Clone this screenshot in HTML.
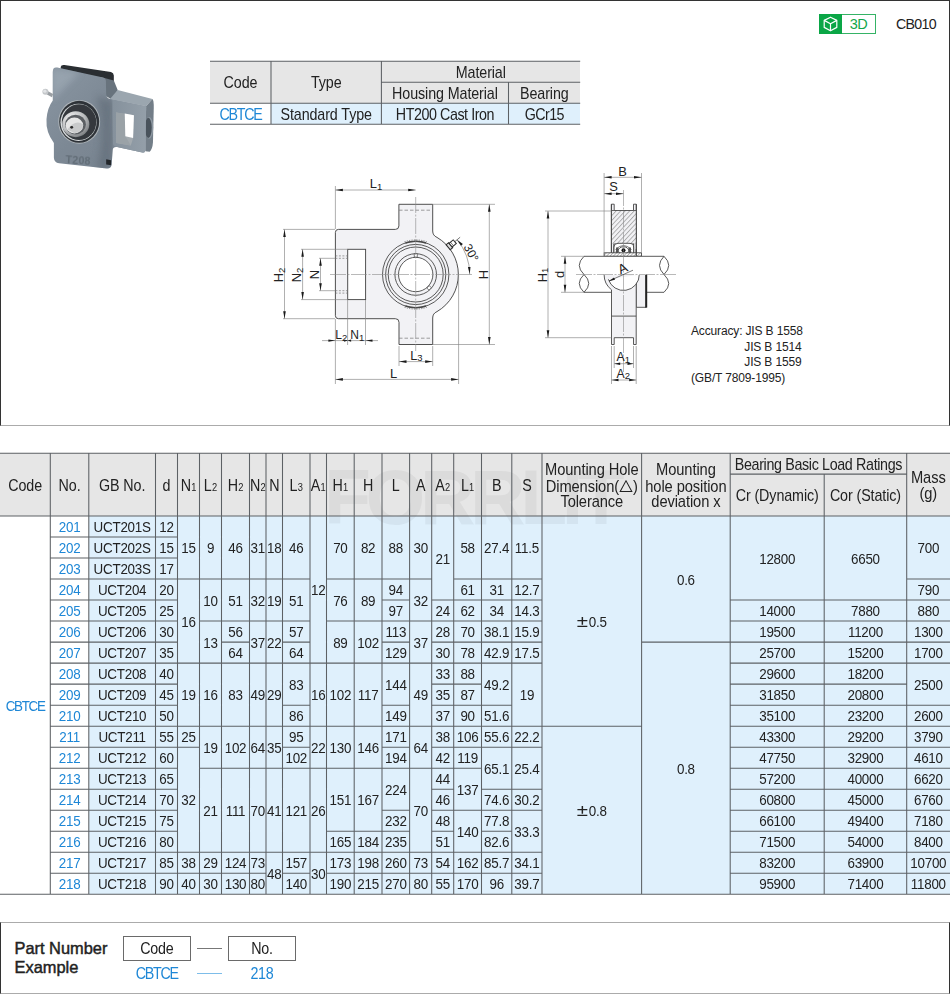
<!DOCTYPE html>
<html><head><meta charset="utf-8"><title>CBTCE</title>
<style>
html,body{margin:0;padding:0;background:#fff}
#page{position:relative;width:950px;height:995px;overflow:hidden;background:#fff;font-family:"Liberation Sans",sans-serif;color:#222}
#page div,#page svg{position:absolute}
.frame1{left:0;top:0;width:948px;height:424px;border:1px solid #333;border-bottom:1.5px solid #ababab}
.frame2{left:0;top:922px;width:948px;height:70px;border:1px solid #333;border-top:1.5px solid #ababab;border-bottom:1.5px solid #ababab}
.bg.hd{background:#e6e6e6}
.bg.bl{background:#dff0fc}
.c{display:flex;align-items:center;justify-content:center;font-size:13.4px;letter-spacing:-0.25px;white-space:nowrap;line-height:1}
.c>span{display:block;text-align:center;transform:scaleY(1.1);position:relative;top:1.2px}
.c.h{font-size:14.3px;letter-spacing:-0.1px}
.c.h.ml>span{line-height:14.65px;top:1.1px;font-size:14.7px}
.c.b{color:#1e87d6}
.c.cb>span{letter-spacing:-1.3px}
.c.p>span{top:0.5px}
.pm{display:inline-block;font-style:normal;font-size:15.5px;line-height:10px;transform:scaleX(1.32);margin:0 2.4px 0 1.2px;vertical-align:-0.3px}
.c sub{font-size:9.3px;vertical-align:baseline;position:relative;top:0.3px;letter-spacing:0;margin-left:0.3px}
#page svg.tri{position:relative;display:inline-block;vertical-align:-1px}
.grid{left:0;top:0;pointer-events:none}
.grid path{stroke:#5d6165;stroke-width:1.05;fill:none}
.wm{left:324px;top:458px;width:310px;height:78px;font-weight:bold;font-size:77px;line-height:78px;letter-spacing:-5.5px;color:#000;opacity:.045;white-space:nowrap}
.t1 .c{font-size:14.3px;letter-spacing:-0.1px}
.lbl{font-size:12px;line-height:15.6px;white-space:pre;color:#222}
</style></head><body><div id="page">

<div class="frame1"></div>
<!-- 3D badge -->
<div style="left:819px;top:14px;width:56.5px;height:19.6px;border:1px solid #35b366;box-sizing:border-box;background:#fff"></div>
<div style="left:819px;top:14px;width:23px;height:19.6px;background:#0aa646"></div>
<svg style="left:819px;top:14px" width="23" height="20" viewBox="0 0 23 20"><g fill="none" stroke="#fff" stroke-width="1.2" stroke-linejoin="round"><path d="M11.5 3.2L17.8 6.4V13.4L11.5 16.8L5.2 13.4V6.4Z"/><path d="M5.2 6.4L11.5 9.8L17.8 6.4M11.5 9.8V16.8"/></g></svg>
<div style="left:842px;top:14px;width:33px;height:19.6px;color:#12a74b;font-size:14.5px;line-height:20px;text-align:center;letter-spacing:-0.6px">3D</div>
<div style="left:893px;top:14px;width:46px;height:20px;font-size:14.2px;line-height:20px;text-align:center;letter-spacing:-0.7px">CB010</div>
<!-- spec table -->
<div class="t1" style="left:0;top:0;width:950px;height:140px">
<div class="bg hd" style="left:210px;top:61.3px;width:370.2px;height:41.9px"></div>
<div class="bg bl" style="left:271px;top:103.2px;width:309.2px;height:21px"></div>
<div class="c" style="left:210px;top:61.3px;width:61px;height:41.9px"><span>Code</span></div>
<div class="c" style="left:271px;top:61.3px;width:110.4px;height:41.9px"><span>Type</span></div>
<div class="c" style="left:381.4px;top:61.3px;width:198.8px;height:20.9px"><span>Material</span></div>
<div class="c" style="left:381.4px;top:82.2px;width:127.1px;height:21px"><span>Housing Material</span></div>
<div class="c" style="left:508.5px;top:82.2px;width:71.7px;height:21px"><span>Bearing</span></div>
<div class="c b cb" style="left:210px;top:103.2px;width:61px;height:21px"><span>CBTCE</span></div>
<div class="c" style="left:271px;top:103.2px;width:110.4px;height:21px"><span>Standard Type</span></div>
<div class="c" style="left:381.4px;top:103.2px;width:127.1px;height:21px"><span style="letter-spacing:-0.45px">HT200 Cast Iron</span></div>
<div class="c" style="left:508.5px;top:103.2px;width:71.7px;height:21px"><span style="letter-spacing:-0.6px">GCr15</span></div>
<svg class="grid" width="950" height="140" viewBox="0 0 950 140"><path d="M210 61.3H580.2M210 103.2H580.2M210 124.2H580.2M381.4 82.2H580.2M271 61.3V124.2M381.4 61.3V124.2M508.5 82.2V124.2"/></svg>
</div>
<div class="lbl" style="left:691px;top:324.3px;width:110.5px;text-align:right;letter-spacing:-0.15px">Accuracy: JIS B 1558
JIS B 1514
JIS B 1559</div>
<div class="lbl" style="left:691px;top:371.1px;letter-spacing:-0.15px">(GB/T 7809-1995)</div>

<svg style="left:35px;top:55px" width="130" height="125" viewBox="0 0 950 913">
<defs>
<linearGradient id="gf" x1="0" y1="0" x2="1" y2="1"><stop offset="0" stop-color="#8a96a2"/><stop offset="0.5" stop-color="#7c8894"/><stop offset="1" stop-color="#76828e"/></linearGradient>
<linearGradient id="ga" x1="0" y1="0" x2="1" y2="0"><stop offset="0" stop-color="#84909b"/><stop offset="1" stop-color="#949fa9"/></linearGradient>
<radialGradient id="gs" cx="0.35" cy="0.3" r="0.8"><stop offset="0" stop-color="#f4f4f4"/><stop offset="0.6" stop-color="#b9bbbd"/><stop offset="1" stop-color="#6f7275"/></radialGradient>
<filter id="bl2" x="-30%" y="-30%" width="160%" height="160%"><feGaussianBlur stdDeviation="28"/></filter>
<clipPath id="cf"><path d="M130 124Q130 86 162 92L498 164Q518 170 518 192L520 285Q522 316 550 322L568 330V692L560 800Q555 832 524 829L176 790Q140 785 138 750V642Q78 565 84 470Q90 385 130 332Z"/></clipPath>
<filter id="bl" x="-5%" y="-5%" width="110%" height="110%"><feGaussianBlur stdDeviation="3.2"/></filter>
</defs>
<g filter="url(#bl)">
<!-- black top pad -->
<path d="M188 88Q190 70 215 73L555 124Q575 130 576 150V190L520 205L500 168L188 118Z" fill="#2a2e32"/>
<!-- shadow side behind boss -->
<path d="M500 166L576 186L605 258L560 325L518 300Z" fill="#68737d"/>
<!-- arm top face -->
<path d="M548 322L604 256L858 322L812 374Z" fill="#9ba6af"/>
<!-- arm right side -->
<path d="M812 374L858 322Q868 330 868 380L862 640Q858 690 838 706L806 704Z" fill="#737e88"/>
<ellipse cx="834" cy="532" rx="30" ry="80" fill="#8d98a2"/>
<ellipse cx="828" cy="532" rx="25" ry="74" fill="#4a535b"/>
<!-- front face -->
<path d="M130 124Q130 86 162 92L498 164Q518 170 518 192L520 285Q522 316 550 322L812 374L808 690Q806 716 784 712L600 672Q572 668 568 692L560 800Q555 832 524 829L176 790Q140 785 138 750V642Q78 565 84 470Q90 385 130 332Z" fill="url(#gf)"/>
<path d="M548 322L812 374L808 690Q806 716 784 712L600 672Q574 668 570 650L560 330Z" fill="url(#ga)"/>
<g clip-path="url(#cf)"><path d="M450 300Q520 330 570 330L568 690L560 840L450 830Q520 600 450 300Z" fill="#65707b" opacity="0.75" filter="url(#bl2)"/>
<path d="M120 100L330 120L120 330Z" fill="#9ba7b2" opacity="0.8" filter="url(#bl2)"/></g>
<!-- slot -->
<path d="M592 420L722 440L716 612L700 662L594 642Z" fill="#a3aaaf"/>
<path d="M592 420L655 430L660 592L700 662L594 642Z" fill="#9aa2a7"/>
<path d="M656 428L723 440L717 606L660 594Z" fill="#ffffff"/>
<!-- bearing -->
<ellipse cx="323" cy="488" rx="153" ry="160" fill="#aeb4b9"/>
<ellipse cx="323" cy="488" rx="146" ry="153" fill="#2e3337"/>
<ellipse cx="318" cy="492" rx="132" ry="136" fill="#d9dcde"/>
<ellipse cx="322" cy="490" rx="126" ry="131" fill="#34393d"/>
<ellipse cx="298" cy="505" rx="99" ry="95" fill="url(#gs)"/>
<ellipse cx="296" cy="508" rx="76" ry="72" fill="#5b5f63"/>
<ellipse cx="288" cy="515" rx="64" ry="58" fill="#e6e6e6"/>
<path d="M236 545Q290 470 352 505Q345 560 290 572Z" fill="#c9cacb"/>
<ellipse cx="268" cy="528" rx="11" ry="10" fill="#2a2a2a"/>
<!-- nipple -->
<path d="M92 262L132 284L124 308L84 286Z" fill="#9a9fa3"/>
<circle cx="76" cy="268" r="22" fill="#c4c7ca"/>
<circle cx="72" cy="264" r="12" fill="#e2e4e6"/>
<!-- bottom notch -->
<path d="M520 762L556 768V806L520 800Z" fill="#23272b"/>
</g>
<text x="315" y="800" font-family="Liberation Sans, sans-serif" font-weight="bold" font-size="78" fill="#626d77" text-anchor="middle" letter-spacing="2" transform="rotate(4 315 770)" filter="url(#bl)">T208</text>
</svg>

<svg style="left:0;top:0" width="950" height="430" viewBox="0 0 950 430" font-family="Liberation Sans, sans-serif">
<path d="M338.4 229.4H395.4Q398.9 229.4 398.9 225.9V204.3H432.7V231Q432.7 235.6 437 237.4A42.9 42.9 0 0 1 437 311.6Q432.7 313.4 432.7 318V344.5H399V322.3Q399 318.7 395.4 318.7H338.4Q335.4 318.7 335.4 315.7V232.4Q335.4 229.4 338.4 229.4Z" fill="#f2f2f5" stroke="#474747" stroke-width="0.95" stroke-linejoin="round"/>
<rect x="347.7" y="249.3" width="17.9" height="50.3" fill="#fff" stroke="#474747" stroke-width="0.95"/>
<line x1="335.4" y1="255.9" x2="347.7" y2="255.9" stroke="#777" stroke-width="0.7" stroke-dasharray="2 1.5"/>
<line x1="335.4" y1="258.3" x2="347.7" y2="258.3" stroke="#777" stroke-width="0.7" stroke-dasharray="2 1.5"/>
<line x1="335.4" y1="290.7" x2="347.7" y2="290.7" stroke="#777" stroke-width="0.7" stroke-dasharray="2 1.5"/>
<line x1="335.4" y1="293.1" x2="347.7" y2="293.1" stroke="#777" stroke-width="0.7" stroke-dasharray="2 1.5"/>
<line x1="399" y1="210.2" x2="432.7" y2="210.2" stroke="#777" stroke-width="0.7" stroke-dasharray="3.5 2"/>
<line x1="399" y1="338.2" x2="432.7" y2="338.2" stroke="#777" stroke-width="0.7" stroke-dasharray="3.5 2"/>
<circle cx="415.7" cy="274.5" r="33.2" fill="none" stroke="#474747" stroke-width="0.9"/>
<circle cx="415.7" cy="274.5" r="30.1" fill="none" stroke="#474747" stroke-width="0.9"/>
<circle cx="415.7" cy="274.5" r="27.5" fill="none" stroke="#474747" stroke-width="0.9"/>
<circle cx="415.7" cy="274.5" r="20.8" fill="#f2f2f5" stroke="#474747" stroke-width="0.9"/>
<circle cx="415.7" cy="274.5" r="17.2" fill="#fff" stroke="#474747" stroke-width="0.9"/>
<path d="M404.44 241.79A34.6 34.6 0 0 1 426.96 241.79" fill="none" stroke="#555" stroke-width="0.7" stroke-dasharray="1.2 1.2"/>
<path d="M426.96 307.21A34.6 34.6 0 0 1 404.44 307.21" fill="none" stroke="#555" stroke-width="0.7" stroke-dasharray="1.2 1.2"/>
<path d="M425.96 306.08A33.2 33.2 0 0 1 405.44 306.08" fill="none" stroke="#474747" stroke-width="1.5" />
<path d="M405.44 242.92A33.2 33.2 0 0 1 425.96 242.92" fill="none" stroke="#474747" stroke-width="1.5" />
<rect x="414.2" y="253.7" width="3" height="3.4" fill="#fff" stroke="#474747" stroke-width="0.7"/>
<rect x="-1.5" y="-1.7" width="3" height="3.4" fill="#fff" stroke="#474747" stroke-width="0.7" transform="translate(429.1 287.9) rotate(45)"/>
<g transform="translate(415.7 274.5) rotate(-40)" fill="#fff" stroke="#2e2e2e" stroke-width="1.05"><rect x="42.4" y="-3.2" width="3.2" height="6.4" fill="#ddd"/><rect x="45.6" y="-2.4" width="5.4" height="4.8"/><line x1="47.4" y1="-2.4" x2="47.4" y2="2.4" stroke-width="0.6"/><line x1="51" y1="0" x2="58" y2="0" stroke-width="0.6"/></g>
<line x1="330" y1="274.5" x2="473" y2="274.5" stroke="#8a8a8a" stroke-width="0.6" stroke-dasharray="16 1.5 2 1.5"/>
<line x1="415.7" y1="197" x2="415.7" y2="351" stroke="#8a8a8a" stroke-width="0.6" stroke-dasharray="16 1.5 2 1.5"/>
<path d="M469.7 274.5A54 54 0 0 0 457.07 239.79" fill="none" stroke="#858585" stroke-width="0.7"/>
<polygon points="469.7,274 467.91,267.11 470.51,266.93" fill="#1a1a1a"/>
<polygon points="457.07,239.79 462.86,243.92 460.99,245.73" fill="#1a1a1a"/>
<text x="0" y="0" font-size="12" fill="#222" text-anchor="middle" transform="translate(467.6 254.8) rotate(62)">30°</text>
<line x1="335.4" y1="186" x2="335.4" y2="229" stroke="#858585" stroke-width="0.65" />
<line x1="335.4" y1="190" x2="415.7" y2="190" stroke="#858585" stroke-width="0.65" /><polygon points="335.4,190 342.9,188.7 342.9,191.3" fill="#1a1a1a"/><polygon points="415.7,190 408.2,191.3 408.2,188.7" fill="#1a1a1a"/>
<text x="376" y="188" font-size="12.9" fill="#222" text-anchor="middle">L<tspan font-size="9.5" dy="1.5">1</tspan></text>
<line x1="433" y1="204.3" x2="495" y2="204.3" stroke="#858585" stroke-width="0.65" />
<line x1="433" y1="344.5" x2="495" y2="344.5" stroke="#858585" stroke-width="0.65" />
<line x1="489.3" y1="204.3" x2="489.3" y2="344.5" stroke="#858585" stroke-width="0.65" /><polygon points="489.3,204.3 490.6,211.8 488,211.8" fill="#1a1a1a"/><polygon points="489.3,344.5 488,337 490.6,337" fill="#1a1a1a"/>
<text x="488" y="274.5" font-size="12.9" fill="#222" text-anchor="middle" transform="rotate(-90 488 274.5)">H</text>
<line x1="283" y1="229.4" x2="335" y2="229.4" stroke="#858585" stroke-width="0.65" />
<line x1="283" y1="318.7" x2="335" y2="318.7" stroke="#858585" stroke-width="0.65" />
<line x1="284.5" y1="229.4" x2="284.5" y2="318.7" stroke="#858585" stroke-width="0.65" /><polygon points="284.5,229.4 285.8,236.9 283.2,236.9" fill="#1a1a1a"/><polygon points="284.5,318.7 283.2,311.2 285.8,311.2" fill="#1a1a1a"/>
<text x="283" y="275" font-size="12.9" fill="#222" text-anchor="middle" transform="rotate(-90 283 275)">H<tspan font-size="9.5" dy="1.5">2</tspan></text>
<line x1="301" y1="249.3" x2="347.7" y2="249.3" stroke="#858585" stroke-width="0.65" />
<line x1="301" y1="299.6" x2="347.7" y2="299.6" stroke="#858585" stroke-width="0.65" />
<line x1="302.6" y1="249.3" x2="302.6" y2="299.6" stroke="#858585" stroke-width="0.65" /><polygon points="302.6,249.3 303.9,256.8 301.3,256.8" fill="#1a1a1a"/><polygon points="302.6,299.6 301.3,292.1 303.9,292.1" fill="#1a1a1a"/>
<text x="301" y="275" font-size="12.9" fill="#222" text-anchor="middle" transform="rotate(-90 301 275)">N<tspan font-size="9.5" dy="1.5">2</tspan></text>
<line x1="319" y1="258.3" x2="335" y2="258.3" stroke="#858585" stroke-width="0.65" />
<line x1="319" y1="290.7" x2="335" y2="290.7" stroke="#858585" stroke-width="0.65" />
<line x1="320.5" y1="258.3" x2="320.5" y2="290.7" stroke="#858585" stroke-width="0.65" /><polygon points="320.5,258.3 321.8,265.8 319.2,265.8" fill="#1a1a1a"/><polygon points="320.5,290.7 319.2,283.2 321.8,283.2" fill="#1a1a1a"/>
<text x="318.8" y="274.5" font-size="12.9" fill="#222" text-anchor="middle" transform="rotate(-90 318.8 274.5)">N</text>
<line x1="347.6" y1="300" x2="347.6" y2="345" stroke="#858585" stroke-width="0.65" />
<line x1="365.5" y1="300" x2="365.5" y2="345" stroke="#858585" stroke-width="0.65" />
<line x1="335.4" y1="319" x2="335.4" y2="384" stroke="#858585" stroke-width="0.65" />
<line x1="322" y1="340.6" x2="378" y2="340.6" stroke="#858585" stroke-width="0.65" />
<polygon points="335.4,340.6 328.4,341.8 328.4,339.4" fill="#1a1a1a"/>
<polygon points="365.5,340.6 372.5,339.4 372.5,341.8" fill="#1a1a1a"/>
<polygon points="347.6,340.6 351.1,339.5 351.1,341.7" fill="#1a1a1a"/>
<polygon points="347.6,340.6 344.1,341.7 344.1,339.5" fill="#1a1a1a"/>
<text x="341.3" y="339" font-size="12" fill="#222" text-anchor="middle">L<tspan font-size="9.5" dy="1.5">2</tspan></text>
<text x="357.3" y="339" font-size="12" fill="#222" text-anchor="middle">N<tspan font-size="9.5" dy="1.5">1</tspan></text>
<line x1="399" y1="346" x2="399" y2="366" stroke="#858585" stroke-width="0.65" />
<line x1="432.7" y1="346" x2="432.7" y2="366" stroke="#858585" stroke-width="0.65" />
<line x1="399" y1="361.6" x2="432.7" y2="361.6" stroke="#858585" stroke-width="0.65" /><polygon points="399,361.6 406.5,360.3 406.5,362.9" fill="#1a1a1a"/><polygon points="432.7,361.6 425.2,362.9 425.2,360.3" fill="#1a1a1a"/>
<text x="416.3" y="359.6" font-size="12.6" fill="#222" text-anchor="middle">L<tspan font-size="9.5" dy="1.5">3</tspan></text>
<line x1="458.6" y1="274.5" x2="458.6" y2="384" stroke="#858585" stroke-width="0.65" />
<line x1="335.4" y1="379.4" x2="458.6" y2="379.4" stroke="#858585" stroke-width="0.65" /><polygon points="335.4,379.4 342.9,378.1 342.9,380.7" fill="#1a1a1a"/><polygon points="458.6,379.4 451.1,380.7 451.1,378.1" fill="#1a1a1a"/>
<text x="393.7" y="378" font-size="12.9" fill="#222" text-anchor="middle">L</text>
<defs><pattern id="hat" width="3.3" height="3.3" patternUnits="userSpaceOnUse" patternTransform="rotate(-47)"><rect width="3.3" height="3.3" fill="#f2f2f5"/><line x1="0" y1="0.5" x2="3.3" y2="0.5" stroke="#777" stroke-width="0.55"/></pattern>
<pattern id="hat2" width="2.4" height="2.4" patternUnits="userSpaceOnUse" patternTransform="rotate(-45)"><rect width="2.4" height="2.4" fill="#fff"/><line x1="0" y1="0" x2="2.4" y2="0" stroke="#444" stroke-width="0.7"/></pattern></defs>
<path d="M611.4 204.2H614.2V210.5H633.5V204.2H636.3V256.3H633.5V243.5H614.2V256.3H611.4Z" fill="#f2f2f5" stroke="#474747" stroke-width="0.9"/>
<rect x="611.4" y="210.5" width="24.9" height="33" fill="url(#hat)" stroke="none"/>
<path d="M611.4 210.5H636.3M613.8 243.5V256M633.7 243.5V256" fill="none" stroke="#474747" stroke-width="0.8"/>
<line x1="611.4" y1="204.2" x2="611.4" y2="256.3" stroke="#474747" stroke-width="1" />
<line x1="636.3" y1="204.2" x2="636.3" y2="256.3" stroke="#474747" stroke-width="1" />
<path d="M614 256.3V247Q614 243.3 618 243.3H629Q633.6 243.3 633.6 247V256.3Z" fill="#fff" stroke="#474747" stroke-width="0.9"/>
<path d="M615.5 252Q623.5 243 631.5 252" fill="none" stroke="#474747" stroke-width="0.8"/>
<path d="M615.5 249.5Q623.5 241.5 631.5 249.5" fill="none" stroke="#474747" stroke-width="0.7"/>
<ellipse cx="623.5" cy="250.4" rx="5.2" ry="3.6" fill="#fff" stroke="#474747" stroke-width="0.9"/>
<circle cx="623.5" cy="250.2" r="2" fill="#111"/>
<rect x="616" y="247.5" width="2.4" height="5.5" fill="#555"/><rect x="628.6" y="247.5" width="2.4" height="5.5" fill="#555"/>
<rect x="604.1" y="252.8" width="37.4" height="3.5" fill="url(#hat2)" stroke="#474747" stroke-width="0.9"/>
<line x1="636.3" y1="249" x2="636.3" y2="259" stroke="#474747" stroke-width="1.2" />
<path d="M584 256.3H664Q655 265.4 664 274.5Q673.5 283.6 664 292.3H584Q574.5 283.4 584 274.5Q574.5 265.4 584 256.3Z" fill="#fff" stroke="#474747" stroke-width="0.9"/>
<path d="M664 256.3Q673.5 265.4 664 274.5" fill="none" stroke="#474747" stroke-width="0.9"/>
<path d="M584 274.5Q593.5 283.4 584 292.3" fill="none" stroke="#474747" stroke-width="0.9"/>
<path d="M636.2 274.5H646.2V307.3H636.2Z" fill="#f2f2f5" stroke="#474747" stroke-width="0.9"/>
<line x1="646.2" y1="274.5" x2="646.2" y2="307.6" stroke="#222" stroke-width="2" />
<path d="M604.1 274.5A19.4 19.4 0 0 0 611.5 289.8V344.5H614.2V337.7H633.5V344.5H636.2V274.5Z" fill="#f2f2f5" stroke="#474747" stroke-width="0.9"/>
<path d="M608.6 279.5A15.8 15.8 0 0 0 639.3 274.5Z" fill="#fff" stroke="none"/>
<path d="M608.4 279.3A15.8 15.8 0 0 0 639.3 274.5" fill="none" stroke="#474747" stroke-width="0.9"/>
<line x1="611.5" y1="316.1" x2="636.2" y2="316.1" stroke="#474747" stroke-width="0.9" />
<line x1="604.1" y1="274.5" x2="646.2" y2="274.5" stroke="#fff" stroke-width="1.2" />
<line x1="576" y1="274.5" x2="677" y2="274.5" stroke="#8a8a8a" stroke-width="0.6" stroke-dasharray="16 1.5 2 1.5"/>
<line x1="623.5" y1="190" x2="623.5" y2="372" stroke="#8a8a8a" stroke-width="0.6" stroke-dasharray="16 1.5 2 1.5"/>
<line x1="609" y1="281" x2="633" y2="270.2" stroke="#444" stroke-width="0.7" />
<polygon points="608.6,281.2 614.04,277.44 615.02,279.63" fill="#1a1a1a"/>
<text font-size="13.5" fill="#222" text-anchor="middle" transform="translate(624.6 272.6) rotate(-25)">A</text>
<line x1="604.1" y1="173" x2="604.1" y2="252.5" stroke="#858585" stroke-width="0.65" />
<line x1="641.5" y1="173" x2="641.5" y2="252.5" stroke="#858585" stroke-width="0.65" />
<line x1="604.1" y1="177.3" x2="641.5" y2="177.3" stroke="#858585" stroke-width="0.65" /><polygon points="604.1,177.3 611.6,176 611.6,178.6" fill="#1a1a1a"/><polygon points="641.5,177.3 634,178.6 634,176" fill="#1a1a1a"/>
<text x="622.5" y="176.3" font-size="12.9" fill="#222" text-anchor="middle">B</text>
<line x1="604.1" y1="193.7" x2="623.5" y2="193.7" stroke="#858585" stroke-width="0.65" /><polygon points="604.1,193.7 611.6,192.4 611.6,195" fill="#1a1a1a"/><polygon points="623.5,193.7 616,195 616,192.4" fill="#1a1a1a"/>
<text x="613.5" y="191" font-size="12.9" fill="#222" text-anchor="middle">S</text>
<line x1="545" y1="211" x2="611.4" y2="211" stroke="#858585" stroke-width="0.65" />
<line x1="545" y1="337.7" x2="611.4" y2="337.7" stroke="#858585" stroke-width="0.65" />
<line x1="548" y1="211" x2="548" y2="337.7" stroke="#858585" stroke-width="0.65" /><polygon points="548,211 549.3,218.5 546.7,218.5" fill="#1a1a1a"/><polygon points="548,337.7 546.7,330.2 549.3,330.2" fill="#1a1a1a"/>
<text x="546.5" y="275" font-size="12.9" fill="#222" text-anchor="middle" transform="rotate(-90 546.5 275)">H<tspan font-size="9.5" dy="1.5">1</tspan></text>
<line x1="561" y1="256.3" x2="584" y2="256.3" stroke="#858585" stroke-width="0.65" />
<line x1="561" y1="292.3" x2="584" y2="292.3" stroke="#858585" stroke-width="0.65" />
<line x1="565" y1="256.3" x2="565" y2="292.3" stroke="#858585" stroke-width="0.65" /><polygon points="565,256.3 566.3,263.8 563.7,263.8" fill="#1a1a1a"/><polygon points="565,292.3 563.7,284.8 566.3,284.8" fill="#1a1a1a"/>
<text x="563.5" y="274.5" font-size="12.9" fill="#222" text-anchor="middle" transform="rotate(-90 563.5 274.5)">d</text>
<line x1="614.2" y1="346" x2="614.2" y2="368" stroke="#858585" stroke-width="0.65" />
<line x1="633.5" y1="346" x2="633.5" y2="368" stroke="#858585" stroke-width="0.65" />
<line x1="611.5" y1="346" x2="611.5" y2="384" stroke="#858585" stroke-width="0.65" />
<line x1="636.2" y1="346" x2="636.2" y2="384" stroke="#858585" stroke-width="0.65" />
<line x1="614.2" y1="363.7" x2="633.5" y2="363.7" stroke="#858585" stroke-width="0.65" />
<polygon points="614.2,363.7 620.2,362.5 620.2,364.9" fill="#1a1a1a"/>
<polygon points="633.5,363.7 627.5,364.9 627.5,362.5" fill="#1a1a1a"/>
<text x="623.3" y="361" font-size="12.2" fill="#222" text-anchor="middle">A<tspan font-size="9.5" dy="1.5">1</tspan></text>
<line x1="611.5" y1="380" x2="636.2" y2="380" stroke="#858585" stroke-width="0.65" />
<polygon points="611.5,380 618.5,378.8 618.5,381.2" fill="#1a1a1a"/>
<polygon points="636.2,380 629.2,381.2 629.2,378.8" fill="#1a1a1a"/>
<text x="623.3" y="377.6" font-size="12.2" fill="#222" text-anchor="middle">A<tspan font-size="9.5" dy="1.5">2</tspan></text>
</svg>
<div class="bg hd" style="left:0;top:453.2px;width:950px;height:62.8px"></div>
<div class="bg bl" style="left:88.8px;top:516px;width:861.2px;height:378.3px"></div>
<div class="wm">FORRLIT</div>
<div class="c h" style="left:0px;top:453.2px;width:50.3px;height:62.8px"><span>Code</span></div>
<div class="c h" style="left:50.3px;top:453.2px;width:38.5px;height:62.8px"><span>No.</span></div>
<div class="c h" style="left:88.8px;top:453.2px;width:66.7px;height:62.8px"><span>GB No.</span></div>
<div class="c h" style="left:155.5px;top:453.2px;width:22px;height:62.8px"><span>d</span></div>
<div class="c h" style="left:177.5px;top:453.2px;width:22px;height:62.8px"><span>N<sub>1</sub></span></div>
<div class="c h" style="left:199.5px;top:453.2px;width:22px;height:62.8px"><span>L<sub>2</sub></span></div>
<div class="c h" style="left:221.5px;top:453.2px;width:28px;height:62.8px"><span>H<sub>2</sub></span></div>
<div class="c h" style="left:249.5px;top:453.2px;width:16.5px;height:62.8px"><span>N<sub>2</sub></span></div>
<div class="c h" style="left:266px;top:453.2px;width:16.5px;height:62.8px"><span>N</span></div>
<div class="c h" style="left:282.5px;top:453.2px;width:27.5px;height:62.8px"><span>L<sub>3</sub></span></div>
<div class="c h" style="left:310px;top:453.2px;width:16.5px;height:62.8px"><span>A<sub>1</sub></span></div>
<div class="c h" style="left:326.5px;top:453.2px;width:27.7px;height:62.8px"><span>H<sub>1</sub></span></div>
<div class="c h" style="left:354.2px;top:453.2px;width:27.8px;height:62.8px"><span>H</span></div>
<div class="c h" style="left:382px;top:453.2px;width:27.6px;height:62.8px"><span>L</span></div>
<div class="c h" style="left:409.6px;top:453.2px;width:22.1px;height:62.8px"><span>A</span></div>
<div class="c h" style="left:431.7px;top:453.2px;width:22px;height:62.8px"><span>A<sub>2</sub></span></div>
<div class="c h" style="left:453.7px;top:453.2px;width:27.8px;height:62.8px"><span>L<sub>1</sub></span></div>
<div class="c h" style="left:481.5px;top:453.2px;width:30.3px;height:62.8px"><span>B</span></div>
<div class="c h" style="left:511.8px;top:453.2px;width:30.2px;height:62.8px"><span>S</span></div>
<div class="c h ml" style="left:542px;top:453.2px;width:99.6px;height:62.8px"><span>Mounting Hole<br>Dimension(<svg class="tri" width="14" height="12" viewBox="0 0 14 12"><path d="M7 1.2L12.8 11H1.2Z" fill="none" stroke="#222" stroke-width="1"/></svg>)<br>Tolerance</span></div>
<div class="c h ml" style="left:641.6px;top:453.2px;width:88.6px;height:62.8px"><span>Mounting<br>hole position<br>deviation x</span></div>
<div class="c h ml" style="left:906.7px;top:453.2px;width:43.3px;height:62.8px"><span>Mass<br>(g)</span></div>
<div class="c h" style="left:730.2px;top:453.2px;width:176.5px;height:20.9px"><span style="letter-spacing:-0.35px">Bearing Basic Load Ratings</span></div>
<div class="c h" style="left:730.2px;top:474.1px;width:94px;height:41.9px"><span>Cr (Dynamic)</span></div>
<div class="c h" style="left:824.2px;top:474.1px;width:82.5px;height:41.9px"><span>Cor (Static)</span></div>
<div class="c b cb" style="left:0px;top:516px;width:50.3px;height:378.3px"><span>CBTCE</span></div>
<div class="c b" style="left:50.3px;top:516px;width:38.5px;height:21.02px"><span>201</span></div>
<div class="c b" style="left:50.3px;top:537.02px;width:38.5px;height:21.02px"><span>202</span></div>
<div class="c b" style="left:50.3px;top:558.03px;width:38.5px;height:21.02px"><span>203</span></div>
<div class="c b" style="left:50.3px;top:579.05px;width:38.5px;height:21.02px"><span>204</span></div>
<div class="c b" style="left:50.3px;top:600.07px;width:38.5px;height:21.02px"><span>205</span></div>
<div class="c b" style="left:50.3px;top:621.08px;width:38.5px;height:21.02px"><span>206</span></div>
<div class="c b" style="left:50.3px;top:642.1px;width:38.5px;height:21.02px"><span>207</span></div>
<div class="c b" style="left:50.3px;top:663.12px;width:38.5px;height:21.02px"><span>208</span></div>
<div class="c b" style="left:50.3px;top:684.13px;width:38.5px;height:21.02px"><span>209</span></div>
<div class="c b" style="left:50.3px;top:705.15px;width:38.5px;height:21.02px"><span>210</span></div>
<div class="c b" style="left:50.3px;top:726.17px;width:38.5px;height:21.02px"><span>211</span></div>
<div class="c b" style="left:50.3px;top:747.18px;width:38.5px;height:21.02px"><span>212</span></div>
<div class="c b" style="left:50.3px;top:768.2px;width:38.5px;height:21.02px"><span>213</span></div>
<div class="c b" style="left:50.3px;top:789.22px;width:38.5px;height:21.02px"><span>214</span></div>
<div class="c b" style="left:50.3px;top:810.23px;width:38.5px;height:21.02px"><span>215</span></div>
<div class="c b" style="left:50.3px;top:831.25px;width:38.5px;height:21.02px"><span>216</span></div>
<div class="c b" style="left:50.3px;top:852.27px;width:38.5px;height:21.02px"><span>217</span></div>
<div class="c b" style="left:50.3px;top:873.28px;width:38.5px;height:21.02px"><span>218</span></div>
<div class="c" style="left:88.8px;top:516px;width:66.7px;height:21.02px"><span>UCT201S</span></div>
<div class="c" style="left:88.8px;top:537.02px;width:66.7px;height:21.02px"><span>UCT202S</span></div>
<div class="c" style="left:88.8px;top:558.03px;width:66.7px;height:21.02px"><span>UCT203S</span></div>
<div class="c" style="left:88.8px;top:579.05px;width:66.7px;height:21.02px"><span>UCT204</span></div>
<div class="c" style="left:88.8px;top:600.07px;width:66.7px;height:21.02px"><span>UCT205</span></div>
<div class="c" style="left:88.8px;top:621.08px;width:66.7px;height:21.02px"><span>UCT206</span></div>
<div class="c" style="left:88.8px;top:642.1px;width:66.7px;height:21.02px"><span>UCT207</span></div>
<div class="c" style="left:88.8px;top:663.12px;width:66.7px;height:21.02px"><span>UCT208</span></div>
<div class="c" style="left:88.8px;top:684.13px;width:66.7px;height:21.02px"><span>UCT209</span></div>
<div class="c" style="left:88.8px;top:705.15px;width:66.7px;height:21.02px"><span>UCT210</span></div>
<div class="c" style="left:88.8px;top:726.17px;width:66.7px;height:21.02px"><span>UCT211</span></div>
<div class="c" style="left:88.8px;top:747.18px;width:66.7px;height:21.02px"><span>UCT212</span></div>
<div class="c" style="left:88.8px;top:768.2px;width:66.7px;height:21.02px"><span>UCT213</span></div>
<div class="c" style="left:88.8px;top:789.22px;width:66.7px;height:21.02px"><span>UCT214</span></div>
<div class="c" style="left:88.8px;top:810.23px;width:66.7px;height:21.02px"><span>UCT215</span></div>
<div class="c" style="left:88.8px;top:831.25px;width:66.7px;height:21.02px"><span>UCT216</span></div>
<div class="c" style="left:88.8px;top:852.27px;width:66.7px;height:21.02px"><span>UCT217</span></div>
<div class="c" style="left:88.8px;top:873.28px;width:66.7px;height:21.02px"><span>UCT218</span></div>
<div class="c" style="left:155.5px;top:516px;width:22px;height:21.02px"><span>12</span></div>
<div class="c" style="left:155.5px;top:537.02px;width:22px;height:21.02px"><span>15</span></div>
<div class="c" style="left:155.5px;top:558.03px;width:22px;height:21.02px"><span>17</span></div>
<div class="c" style="left:155.5px;top:579.05px;width:22px;height:21.02px"><span>20</span></div>
<div class="c" style="left:155.5px;top:600.07px;width:22px;height:21.02px"><span>25</span></div>
<div class="c" style="left:155.5px;top:621.08px;width:22px;height:21.02px"><span>30</span></div>
<div class="c" style="left:155.5px;top:642.1px;width:22px;height:21.02px"><span>35</span></div>
<div class="c" style="left:155.5px;top:663.12px;width:22px;height:21.02px"><span>40</span></div>
<div class="c" style="left:155.5px;top:684.13px;width:22px;height:21.02px"><span>45</span></div>
<div class="c" style="left:155.5px;top:705.15px;width:22px;height:21.02px"><span>50</span></div>
<div class="c" style="left:155.5px;top:726.17px;width:22px;height:21.02px"><span>55</span></div>
<div class="c" style="left:155.5px;top:747.18px;width:22px;height:21.02px"><span>60</span></div>
<div class="c" style="left:155.5px;top:768.2px;width:22px;height:21.02px"><span>65</span></div>
<div class="c" style="left:155.5px;top:789.22px;width:22px;height:21.02px"><span>70</span></div>
<div class="c" style="left:155.5px;top:810.23px;width:22px;height:21.02px"><span>75</span></div>
<div class="c" style="left:155.5px;top:831.25px;width:22px;height:21.02px"><span>80</span></div>
<div class="c" style="left:155.5px;top:852.27px;width:22px;height:21.02px"><span>85</span></div>
<div class="c" style="left:155.5px;top:873.28px;width:22px;height:21.02px"><span>90</span></div>
<div class="c" style="left:177.5px;top:516px;width:22px;height:63.05px"><span>15</span></div>
<div class="c" style="left:177.5px;top:579.05px;width:22px;height:84.07px"><span>16</span></div>
<div class="c" style="left:177.5px;top:663.12px;width:22px;height:63.05px"><span>19</span></div>
<div class="c" style="left:177.5px;top:726.17px;width:22px;height:21.02px"><span>25</span></div>
<div class="c" style="left:177.5px;top:747.18px;width:22px;height:105.08px"><span>32</span></div>
<div class="c" style="left:177.5px;top:852.27px;width:22px;height:21.02px"><span>38</span></div>
<div class="c" style="left:177.5px;top:873.28px;width:22px;height:21.02px"><span>40</span></div>
<div class="c" style="left:199.5px;top:516px;width:22px;height:63.05px"><span>9</span></div>
<div class="c" style="left:199.5px;top:579.05px;width:22px;height:42.03px"><span>10</span></div>
<div class="c" style="left:199.5px;top:621.08px;width:22px;height:42.03px"><span>13</span></div>
<div class="c" style="left:199.5px;top:663.12px;width:22px;height:63.05px"><span>16</span></div>
<div class="c" style="left:199.5px;top:726.17px;width:22px;height:42.03px"><span>19</span></div>
<div class="c" style="left:199.5px;top:768.2px;width:22px;height:84.07px"><span>21</span></div>
<div class="c" style="left:199.5px;top:852.27px;width:22px;height:21.02px"><span>29</span></div>
<div class="c" style="left:199.5px;top:873.28px;width:22px;height:21.02px"><span>30</span></div>
<div class="c" style="left:221.5px;top:516px;width:28px;height:63.05px"><span>46</span></div>
<div class="c" style="left:221.5px;top:579.05px;width:28px;height:42.03px"><span>51</span></div>
<div class="c" style="left:221.5px;top:621.08px;width:28px;height:21.02px"><span>56</span></div>
<div class="c" style="left:221.5px;top:642.1px;width:28px;height:21.02px"><span>64</span></div>
<div class="c" style="left:221.5px;top:663.12px;width:28px;height:63.05px"><span>83</span></div>
<div class="c" style="left:221.5px;top:726.17px;width:28px;height:42.03px"><span>102</span></div>
<div class="c" style="left:221.5px;top:768.2px;width:28px;height:84.07px"><span>111</span></div>
<div class="c" style="left:221.5px;top:852.27px;width:28px;height:21.02px"><span>124</span></div>
<div class="c" style="left:221.5px;top:873.28px;width:28px;height:21.02px"><span>130</span></div>
<div class="c" style="left:249.5px;top:516px;width:16.5px;height:63.05px"><span>31</span></div>
<div class="c" style="left:249.5px;top:579.05px;width:16.5px;height:42.03px"><span>32</span></div>
<div class="c" style="left:249.5px;top:621.08px;width:16.5px;height:42.03px"><span>37</span></div>
<div class="c" style="left:249.5px;top:663.12px;width:16.5px;height:63.05px"><span>49</span></div>
<div class="c" style="left:249.5px;top:726.17px;width:16.5px;height:42.03px"><span>64</span></div>
<div class="c" style="left:249.5px;top:768.2px;width:16.5px;height:84.07px"><span>70</span></div>
<div class="c" style="left:249.5px;top:852.27px;width:16.5px;height:21.02px"><span>73</span></div>
<div class="c" style="left:249.5px;top:873.28px;width:16.5px;height:21.02px"><span>80</span></div>
<div class="c" style="left:266px;top:516px;width:16.5px;height:63.05px"><span>18</span></div>
<div class="c" style="left:266px;top:579.05px;width:16.5px;height:42.03px"><span>19</span></div>
<div class="c" style="left:266px;top:621.08px;width:16.5px;height:42.03px"><span>22</span></div>
<div class="c" style="left:266px;top:663.12px;width:16.5px;height:63.05px"><span>29</span></div>
<div class="c" style="left:266px;top:726.17px;width:16.5px;height:42.03px"><span>35</span></div>
<div class="c" style="left:266px;top:768.2px;width:16.5px;height:84.07px"><span>41</span></div>
<div class="c" style="left:266px;top:852.27px;width:16.5px;height:42.03px"><span>48</span></div>
<div class="c" style="left:282.5px;top:516px;width:27.5px;height:63.05px"><span>46</span></div>
<div class="c" style="left:282.5px;top:579.05px;width:27.5px;height:42.03px"><span>51</span></div>
<div class="c" style="left:282.5px;top:621.08px;width:27.5px;height:21.02px"><span>57</span></div>
<div class="c" style="left:282.5px;top:642.1px;width:27.5px;height:21.02px"><span>64</span></div>
<div class="c" style="left:282.5px;top:663.12px;width:27.5px;height:42.03px"><span>83</span></div>
<div class="c" style="left:282.5px;top:705.15px;width:27.5px;height:21.02px"><span>86</span></div>
<div class="c" style="left:282.5px;top:726.17px;width:27.5px;height:21.02px"><span>95</span></div>
<div class="c" style="left:282.5px;top:747.18px;width:27.5px;height:21.02px"><span>102</span></div>
<div class="c" style="left:282.5px;top:768.2px;width:27.5px;height:84.07px"><span>121</span></div>
<div class="c" style="left:282.5px;top:852.27px;width:27.5px;height:21.02px"><span>157</span></div>
<div class="c" style="left:282.5px;top:873.28px;width:27.5px;height:21.02px"><span>140</span></div>
<div class="c" style="left:310px;top:516px;width:16.5px;height:147.12px"><span>12</span></div>
<div class="c" style="left:310px;top:663.12px;width:16.5px;height:63.05px"><span>16</span></div>
<div class="c" style="left:310px;top:726.17px;width:16.5px;height:42.03px"><span>22</span></div>
<div class="c" style="left:310px;top:768.2px;width:16.5px;height:84.07px"><span>26</span></div>
<div class="c" style="left:310px;top:852.27px;width:16.5px;height:42.03px"><span>30</span></div>
<div class="c" style="left:326.5px;top:516px;width:27.7px;height:63.05px"><span>70</span></div>
<div class="c" style="left:326.5px;top:579.05px;width:27.7px;height:42.03px"><span>76</span></div>
<div class="c" style="left:326.5px;top:621.08px;width:27.7px;height:42.03px"><span>89</span></div>
<div class="c" style="left:326.5px;top:663.12px;width:27.7px;height:63.05px"><span>102</span></div>
<div class="c" style="left:326.5px;top:726.17px;width:27.7px;height:42.03px"><span>130</span></div>
<div class="c" style="left:326.5px;top:768.2px;width:27.7px;height:63.05px"><span>151</span></div>
<div class="c" style="left:326.5px;top:831.25px;width:27.7px;height:21.02px"><span>165</span></div>
<div class="c" style="left:326.5px;top:852.27px;width:27.7px;height:21.02px"><span>173</span></div>
<div class="c" style="left:326.5px;top:873.28px;width:27.7px;height:21.02px"><span>190</span></div>
<div class="c" style="left:354.2px;top:516px;width:27.8px;height:63.05px"><span>82</span></div>
<div class="c" style="left:354.2px;top:579.05px;width:27.8px;height:42.03px"><span>89</span></div>
<div class="c" style="left:354.2px;top:621.08px;width:27.8px;height:42.03px"><span>102</span></div>
<div class="c" style="left:354.2px;top:663.12px;width:27.8px;height:63.05px"><span>117</span></div>
<div class="c" style="left:354.2px;top:726.17px;width:27.8px;height:42.03px"><span>146</span></div>
<div class="c" style="left:354.2px;top:768.2px;width:27.8px;height:63.05px"><span>167</span></div>
<div class="c" style="left:354.2px;top:831.25px;width:27.8px;height:21.02px"><span>184</span></div>
<div class="c" style="left:354.2px;top:852.27px;width:27.8px;height:21.02px"><span>198</span></div>
<div class="c" style="left:354.2px;top:873.28px;width:27.8px;height:21.02px"><span>215</span></div>
<div class="c" style="left:382px;top:516px;width:27.6px;height:63.05px"><span>88</span></div>
<div class="c" style="left:382px;top:579.05px;width:27.6px;height:21.02px"><span>94</span></div>
<div class="c" style="left:382px;top:600.07px;width:27.6px;height:21.02px"><span>97</span></div>
<div class="c" style="left:382px;top:621.08px;width:27.6px;height:21.02px"><span>113</span></div>
<div class="c" style="left:382px;top:642.1px;width:27.6px;height:21.02px"><span>129</span></div>
<div class="c" style="left:382px;top:663.12px;width:27.6px;height:42.03px"><span>144</span></div>
<div class="c" style="left:382px;top:705.15px;width:27.6px;height:21.02px"><span>149</span></div>
<div class="c" style="left:382px;top:726.17px;width:27.6px;height:21.02px"><span>171</span></div>
<div class="c" style="left:382px;top:747.18px;width:27.6px;height:21.02px"><span>194</span></div>
<div class="c" style="left:382px;top:768.2px;width:27.6px;height:42.03px"><span>224</span></div>
<div class="c" style="left:382px;top:810.23px;width:27.6px;height:21.02px"><span>232</span></div>
<div class="c" style="left:382px;top:831.25px;width:27.6px;height:21.02px"><span>235</span></div>
<div class="c" style="left:382px;top:852.27px;width:27.6px;height:21.02px"><span>260</span></div>
<div class="c" style="left:382px;top:873.28px;width:27.6px;height:21.02px"><span>270</span></div>
<div class="c" style="left:409.6px;top:516px;width:22.1px;height:63.05px"><span>30</span></div>
<div class="c" style="left:409.6px;top:579.05px;width:22.1px;height:42.03px"><span>32</span></div>
<div class="c" style="left:409.6px;top:621.08px;width:22.1px;height:42.03px"><span>37</span></div>
<div class="c" style="left:409.6px;top:663.12px;width:22.1px;height:63.05px"><span>49</span></div>
<div class="c" style="left:409.6px;top:726.17px;width:22.1px;height:42.03px"><span>64</span></div>
<div class="c" style="left:409.6px;top:768.2px;width:22.1px;height:84.07px"><span>70</span></div>
<div class="c" style="left:409.6px;top:852.27px;width:22.1px;height:21.02px"><span>73</span></div>
<div class="c" style="left:409.6px;top:873.28px;width:22.1px;height:21.02px"><span>80</span></div>
<div class="c" style="left:431.7px;top:516px;width:22px;height:84.07px"><span>21</span></div>
<div class="c" style="left:431.7px;top:600.07px;width:22px;height:21.02px"><span>24</span></div>
<div class="c" style="left:431.7px;top:621.08px;width:22px;height:21.02px"><span>28</span></div>
<div class="c" style="left:431.7px;top:642.1px;width:22px;height:21.02px"><span>30</span></div>
<div class="c" style="left:431.7px;top:663.12px;width:22px;height:21.02px"><span>33</span></div>
<div class="c" style="left:431.7px;top:684.13px;width:22px;height:21.02px"><span>35</span></div>
<div class="c" style="left:431.7px;top:705.15px;width:22px;height:21.02px"><span>37</span></div>
<div class="c" style="left:431.7px;top:726.17px;width:22px;height:21.02px"><span>38</span></div>
<div class="c" style="left:431.7px;top:747.18px;width:22px;height:21.02px"><span>42</span></div>
<div class="c" style="left:431.7px;top:768.2px;width:22px;height:21.02px"><span>44</span></div>
<div class="c" style="left:431.7px;top:789.22px;width:22px;height:21.02px"><span>46</span></div>
<div class="c" style="left:431.7px;top:810.23px;width:22px;height:21.02px"><span>48</span></div>
<div class="c" style="left:431.7px;top:831.25px;width:22px;height:21.02px"><span>51</span></div>
<div class="c" style="left:431.7px;top:852.27px;width:22px;height:21.02px"><span>54</span></div>
<div class="c" style="left:431.7px;top:873.28px;width:22px;height:21.02px"><span>55</span></div>
<div class="c" style="left:453.7px;top:516px;width:27.8px;height:63.05px"><span>58</span></div>
<div class="c" style="left:453.7px;top:579.05px;width:27.8px;height:21.02px"><span>61</span></div>
<div class="c" style="left:453.7px;top:600.07px;width:27.8px;height:21.02px"><span>62</span></div>
<div class="c" style="left:453.7px;top:621.08px;width:27.8px;height:21.02px"><span>70</span></div>
<div class="c" style="left:453.7px;top:642.1px;width:27.8px;height:21.02px"><span>78</span></div>
<div class="c" style="left:453.7px;top:663.12px;width:27.8px;height:21.02px"><span>88</span></div>
<div class="c" style="left:453.7px;top:684.13px;width:27.8px;height:21.02px"><span>87</span></div>
<div class="c" style="left:453.7px;top:705.15px;width:27.8px;height:21.02px"><span>90</span></div>
<div class="c" style="left:453.7px;top:726.17px;width:27.8px;height:21.02px"><span>106</span></div>
<div class="c" style="left:453.7px;top:747.18px;width:27.8px;height:21.02px"><span>119</span></div>
<div class="c" style="left:453.7px;top:768.2px;width:27.8px;height:42.03px"><span>137</span></div>
<div class="c" style="left:453.7px;top:810.23px;width:27.8px;height:42.03px"><span>140</span></div>
<div class="c" style="left:453.7px;top:852.27px;width:27.8px;height:21.02px"><span>162</span></div>
<div class="c" style="left:453.7px;top:873.28px;width:27.8px;height:21.02px"><span>170</span></div>
<div class="c" style="left:481.5px;top:516px;width:30.3px;height:63.05px"><span>27.4</span></div>
<div class="c" style="left:481.5px;top:579.05px;width:30.3px;height:21.02px"><span>31</span></div>
<div class="c" style="left:481.5px;top:600.07px;width:30.3px;height:21.02px"><span>34</span></div>
<div class="c" style="left:481.5px;top:621.08px;width:30.3px;height:21.02px"><span>38.1</span></div>
<div class="c" style="left:481.5px;top:642.1px;width:30.3px;height:21.02px"><span>42.9</span></div>
<div class="c" style="left:481.5px;top:663.12px;width:30.3px;height:42.03px"><span>49.2</span></div>
<div class="c" style="left:481.5px;top:705.15px;width:30.3px;height:21.02px"><span>51.6</span></div>
<div class="c" style="left:481.5px;top:726.17px;width:30.3px;height:21.02px"><span>55.6</span></div>
<div class="c" style="left:481.5px;top:747.18px;width:30.3px;height:42.03px"><span>65.1</span></div>
<div class="c" style="left:481.5px;top:789.22px;width:30.3px;height:21.02px"><span>74.6</span></div>
<div class="c" style="left:481.5px;top:810.23px;width:30.3px;height:21.02px"><span>77.8</span></div>
<div class="c" style="left:481.5px;top:831.25px;width:30.3px;height:21.02px"><span>82.6</span></div>
<div class="c" style="left:481.5px;top:852.27px;width:30.3px;height:21.02px"><span>85.7</span></div>
<div class="c" style="left:481.5px;top:873.28px;width:30.3px;height:21.02px"><span>96</span></div>
<div class="c" style="left:511.8px;top:516px;width:30.2px;height:63.05px"><span>11.5</span></div>
<div class="c" style="left:511.8px;top:579.05px;width:30.2px;height:21.02px"><span>12.7</span></div>
<div class="c" style="left:511.8px;top:600.07px;width:30.2px;height:21.02px"><span>14.3</span></div>
<div class="c" style="left:511.8px;top:621.08px;width:30.2px;height:21.02px"><span>15.9</span></div>
<div class="c" style="left:511.8px;top:642.1px;width:30.2px;height:21.02px"><span>17.5</span></div>
<div class="c" style="left:511.8px;top:663.12px;width:30.2px;height:63.05px"><span>19</span></div>
<div class="c" style="left:511.8px;top:726.17px;width:30.2px;height:21.02px"><span>22.2</span></div>
<div class="c" style="left:511.8px;top:747.18px;width:30.2px;height:42.03px"><span>25.4</span></div>
<div class="c" style="left:511.8px;top:789.22px;width:30.2px;height:21.02px"><span>30.2</span></div>
<div class="c" style="left:511.8px;top:810.23px;width:30.2px;height:42.03px"><span>33.3</span></div>
<div class="c" style="left:511.8px;top:852.27px;width:30.2px;height:21.02px"><span>34.1</span></div>
<div class="c" style="left:511.8px;top:873.28px;width:30.2px;height:21.02px"><span>39.7</span></div>
<div class="c" style="left:542px;top:516px;width:99.6px;height:210.17px"><span><i class="pm">±</i>0.5</span></div>
<div class="c" style="left:542px;top:726.17px;width:99.6px;height:168.13px"><span><i class="pm">±</i>0.8</span></div>
<div class="c" style="left:641.6px;top:516px;width:88.6px;height:126.1px"><span>0.6</span></div>
<div class="c" style="left:641.6px;top:642.1px;width:88.6px;height:252.2px"><span>0.8</span></div>
<div class="c" style="left:730.2px;top:516px;width:94px;height:84.07px"><span>12800</span></div>
<div class="c" style="left:730.2px;top:600.07px;width:94px;height:21.02px"><span>14000</span></div>
<div class="c" style="left:730.2px;top:621.08px;width:94px;height:21.02px"><span>19500</span></div>
<div class="c" style="left:730.2px;top:642.1px;width:94px;height:21.02px"><span>25700</span></div>
<div class="c" style="left:730.2px;top:663.12px;width:94px;height:21.02px"><span>29600</span></div>
<div class="c" style="left:730.2px;top:684.13px;width:94px;height:21.02px"><span>31850</span></div>
<div class="c" style="left:730.2px;top:705.15px;width:94px;height:21.02px"><span>35100</span></div>
<div class="c" style="left:730.2px;top:726.17px;width:94px;height:21.02px"><span>43300</span></div>
<div class="c" style="left:730.2px;top:747.18px;width:94px;height:21.02px"><span>47750</span></div>
<div class="c" style="left:730.2px;top:768.2px;width:94px;height:21.02px"><span>57200</span></div>
<div class="c" style="left:730.2px;top:789.22px;width:94px;height:21.02px"><span>60800</span></div>
<div class="c" style="left:730.2px;top:810.23px;width:94px;height:21.02px"><span>66100</span></div>
<div class="c" style="left:730.2px;top:831.25px;width:94px;height:21.02px"><span>71500</span></div>
<div class="c" style="left:730.2px;top:852.27px;width:94px;height:21.02px"><span>83200</span></div>
<div class="c" style="left:730.2px;top:873.28px;width:94px;height:21.02px"><span>95900</span></div>
<div class="c" style="left:824.2px;top:516px;width:82.5px;height:84.07px"><span>6650</span></div>
<div class="c" style="left:824.2px;top:600.07px;width:82.5px;height:21.02px"><span>7880</span></div>
<div class="c" style="left:824.2px;top:621.08px;width:82.5px;height:21.02px"><span>11200</span></div>
<div class="c" style="left:824.2px;top:642.1px;width:82.5px;height:21.02px"><span>15200</span></div>
<div class="c" style="left:824.2px;top:663.12px;width:82.5px;height:21.02px"><span>18200</span></div>
<div class="c" style="left:824.2px;top:684.13px;width:82.5px;height:21.02px"><span>20800</span></div>
<div class="c" style="left:824.2px;top:705.15px;width:82.5px;height:21.02px"><span>23200</span></div>
<div class="c" style="left:824.2px;top:726.17px;width:82.5px;height:21.02px"><span>29200</span></div>
<div class="c" style="left:824.2px;top:747.18px;width:82.5px;height:21.02px"><span>32900</span></div>
<div class="c" style="left:824.2px;top:768.2px;width:82.5px;height:21.02px"><span>40000</span></div>
<div class="c" style="left:824.2px;top:789.22px;width:82.5px;height:21.02px"><span>45000</span></div>
<div class="c" style="left:824.2px;top:810.23px;width:82.5px;height:21.02px"><span>49400</span></div>
<div class="c" style="left:824.2px;top:831.25px;width:82.5px;height:21.02px"><span>54000</span></div>
<div class="c" style="left:824.2px;top:852.27px;width:82.5px;height:21.02px"><span>63900</span></div>
<div class="c" style="left:824.2px;top:873.28px;width:82.5px;height:21.02px"><span>71400</span></div>
<div class="c" style="left:906.7px;top:516px;width:43.3px;height:63.05px"><span>700</span></div>
<div class="c" style="left:906.7px;top:579.05px;width:43.3px;height:21.02px"><span>790</span></div>
<div class="c" style="left:906.7px;top:600.07px;width:43.3px;height:21.02px"><span>880</span></div>
<div class="c" style="left:906.7px;top:621.08px;width:43.3px;height:21.02px"><span>1300</span></div>
<div class="c" style="left:906.7px;top:642.1px;width:43.3px;height:21.02px"><span>1700</span></div>
<div class="c" style="left:906.7px;top:663.12px;width:43.3px;height:42.03px"><span>2500</span></div>
<div class="c" style="left:906.7px;top:705.15px;width:43.3px;height:21.02px"><span>2600</span></div>
<div class="c" style="left:906.7px;top:726.17px;width:43.3px;height:21.02px"><span>3790</span></div>
<div class="c" style="left:906.7px;top:747.18px;width:43.3px;height:21.02px"><span>4610</span></div>
<div class="c" style="left:906.7px;top:768.2px;width:43.3px;height:21.02px"><span>6620</span></div>
<div class="c" style="left:906.7px;top:789.22px;width:43.3px;height:21.02px"><span>6760</span></div>
<div class="c" style="left:906.7px;top:810.23px;width:43.3px;height:21.02px"><span>7180</span></div>
<div class="c" style="left:906.7px;top:831.25px;width:43.3px;height:21.02px"><span>8400</span></div>
<div class="c" style="left:906.7px;top:852.27px;width:43.3px;height:21.02px"><span>10700</span></div>
<div class="c" style="left:906.7px;top:873.28px;width:43.3px;height:21.02px"><span>11800</span></div>
<svg class="grid" width="950" height="995" viewBox="0 0 950 995">
<path d="M0 516L950 516M50.3 537.02L177.5 537.02M50.3 558.03L177.5 558.03M50.3 579.05L310 579.05M326.5 579.05L431.7 579.05M453.7 579.05L542 579.05M906.7 579.05L950 579.05M50.3 600.07L177.5 600.07M382 600.07L409.6 600.07M431.7 600.07L542 600.07M730.2 600.07L950 600.07M50.3 621.08L177.5 621.08M199.5 621.08L310 621.08M326.5 621.08L542 621.08M730.2 621.08L950 621.08M50.3 642.1L177.5 642.1M221.5 642.1L249.5 642.1M282.5 642.1L310 642.1M382 642.1L409.6 642.1M431.7 642.1L542 642.1M641.6 642.1L950 642.1M50.3 663.12L542 663.12M730.2 663.12L950 663.12M50.3 684.13L177.5 684.13M431.7 684.13L481.5 684.13M730.2 684.13L906.7 684.13M50.3 705.15L177.5 705.15M282.5 705.15L310 705.15M382 705.15L409.6 705.15M431.7 705.15L511.8 705.15M730.2 705.15L950 705.15M50.3 726.17L641.6 726.17M730.2 726.17L950 726.17M50.3 747.18L199.5 747.18M282.5 747.18L310 747.18M382 747.18L409.6 747.18M431.7 747.18L542 747.18M730.2 747.18L950 747.18M50.3 768.2L177.5 768.2M199.5 768.2L481.5 768.2M730.2 768.2L950 768.2M50.3 789.22L177.5 789.22M431.7 789.22L453.7 789.22M481.5 789.22L542 789.22M730.2 789.22L950 789.22M50.3 810.23L177.5 810.23M382 810.23L409.6 810.23M431.7 810.23L542 810.23M730.2 810.23L950 810.23M50.3 831.25L177.5 831.25M326.5 831.25L409.6 831.25M431.7 831.25L453.7 831.25M481.5 831.25L511.8 831.25M730.2 831.25L950 831.25M50.3 852.27L542 852.27M730.2 852.27L950 852.27M50.3 873.28L266 873.28M282.5 873.28L310 873.28M326.5 873.28L542 873.28M730.2 873.28L950 873.28M0 894.3L950 894.3M50.3 516L50.3 894.3M88.8 516L88.8 894.3M155.5 516L155.5 894.3M177.5 516L177.5 894.3M199.5 516L199.5 894.3M221.5 516L221.5 894.3M249.5 516L249.5 894.3M266 516L266 894.3M282.5 516L282.5 894.3M310 516L310 894.3M326.5 516L326.5 894.3M354.2 516L354.2 894.3M382 516L382 894.3M409.6 516L409.6 894.3M431.7 516L431.7 894.3M453.7 516L453.7 894.3M481.5 516L481.5 894.3M511.8 516L511.8 894.3M542 516L542 894.3M641.6 516L641.6 894.3M730.2 516L730.2 894.3M824.2 516L824.2 894.3M906.7 516L906.7 894.3M0 453.2L950 453.2M50.3 453.2L50.3 516M88.8 453.2L88.8 516M155.5 453.2L155.5 516M177.5 453.2L177.5 516M199.5 453.2L199.5 516M221.5 453.2L221.5 516M249.5 453.2L249.5 516M266 453.2L266 516M282.5 453.2L282.5 516M310 453.2L310 516M326.5 453.2L326.5 516M354.2 453.2L354.2 516M382 453.2L382 516M409.6 453.2L409.6 516M431.7 453.2L431.7 516M453.7 453.2L453.7 516M481.5 453.2L481.5 516M511.8 453.2L511.8 516M542 453.2L542 516M641.6 453.2L641.6 516M730.2 453.2L730.2 516M824.2 474.1L824.2 516M906.7 453.2L906.7 516M730.2 474.1L906.7 474.1"/>
</svg>
<div class="frame2"></div>
<div style="left:14.5px;top:939.2px;font-size:16.4px;line-height:19.2px;color:#222;-webkit-text-stroke:0.45px #222">Part Number<br>Example</div>
<div style="left:123px;top:936px;width:65.6px;height:23.4px;border:1px solid #6a6a6a"></div>
<div style="left:228.2px;top:936px;width:65.6px;height:23.4px;border:1px solid #6a6a6a"></div>
<div class="c p" style="left:123px;top:936px;width:67.6px;height:25.4px;font-size:14.3px"><span>Code</span></div>
<div class="c p" style="left:228.2px;top:936px;width:67.6px;height:25.4px;font-size:14.3px"><span>No.</span></div>
<div style="left:197px;top:948px;width:24.5px;height:1px;background:#777"></div>
<div style="left:197px;top:973.3px;width:24.5px;height:1px;background:#7dbde9"></div>
<div class="c b cb p" style="left:123px;top:961.5px;width:67.6px;height:24px;font-size:14.3px"><span>CBTCE</span></div>
<div class="c b p" style="left:228.2px;top:961.5px;width:67.6px;height:24px;font-size:14.3px"><span>218</span></div>

</div></body></html>
